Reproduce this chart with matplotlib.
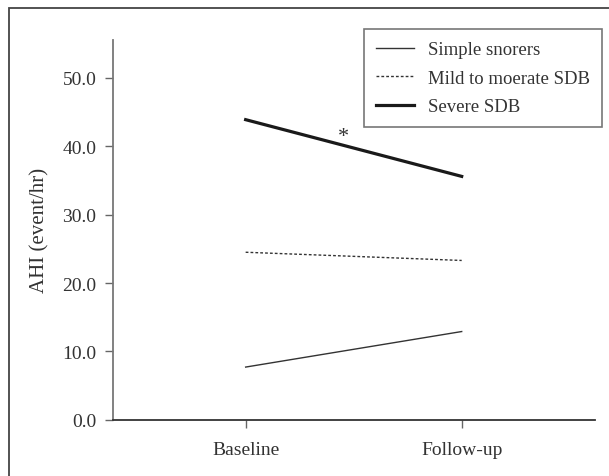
import matplotlib
matplotlib.use("Agg")
import matplotlib.pyplot as plt
from matplotlib.patches import Rectangle

categories = ["Baseline", "Follow-up"]
simple_snorers = [7.7, 12.9]
mild_moderate = [24.5, 23.3]
severe = [43.9, 35.6]
y_ticks = [0, 10, 20, 30, 40, 50]
y_tick_labels = ["0.0", "10.0", "20.0", "30.0", "40.0", "50.0"]

plt.rcParams['font.family'] = ['Liberation Serif', 'DejaVu Serif']

W, H = 609, 477
fig = plt.figure(figsize=(W / 100, H / 100), dpi=100)
ax = fig.add_axes([113 / W, 1 - 420.7 / H, (595 - 113) / W, (420.7 - 40.7) / H])

x = list(range(len(categories)))
ax.plot(x, simple_snorers, color='#333333', lw=1.0, label='Simple snorers')
ax.plot(x, mild_moderate, color='#333333', lw=1.0, ls=(0, (2, 1.5)), label='Mild to moerate SDB')
ax.plot(x, severe, color='#1a1a1a', lw=2.3, label='Severe SDB')

ax.text(0.455, 41.5, '*', ha='center', va='center', fontsize=16, color='#333333')

ax.set_xlim(-0.614, 1.617)
ax.set_ylim(0, 55.6)
ax.set_xticks(x)
ax.set_xticklabels(categories)
ax.set_yticks(y_ticks)
ax.set_yticklabels(y_tick_labels)
ax.set_ylabel('AHI (event/hr)', fontsize=15, color='#333333', labelpad=9)

for s in ['top', 'right']:
    ax.spines[s].set_visible(False)
ax.spines['left'].set_color('#777777')
ax.spines['left'].set_linewidth(1.3)
ax.spines['bottom'].set_color('#333333')
ax.spines['bottom'].set_linewidth(1.3)
ax.tick_params(axis='both', direction='out', length=6, width=1, color='#666666',
               labelsize=14, labelcolor='#333333')
ax.tick_params(axis='x', pad=9)
ax.tick_params(axis='y', pad=6)

leg = ax.legend(loc='upper left', bbox_to_anchor=((364 - 113) / 482, (420.7 - 30) / 380),
                frameon=True, fancybox=False, fontsize=13.5, handlelength=2.0,
                handletextpad=0.75, borderpad=0.65, labelspacing=0.6, borderaxespad=0)
leg.get_frame().set_edgecolor('#555555')
leg.get_frame().set_linewidth(1.2)
for t in leg.get_texts():
    t.set_color('#333333')

fig.patches.append(Rectangle((9 / W, -0.1), 1.2, 1 - 9 / H + 0.1, transform=fig.transFigure,
                             fill=False, edgecolor='#444444', lw=1.3))

fig.savefig('out.png', dpi=100)
